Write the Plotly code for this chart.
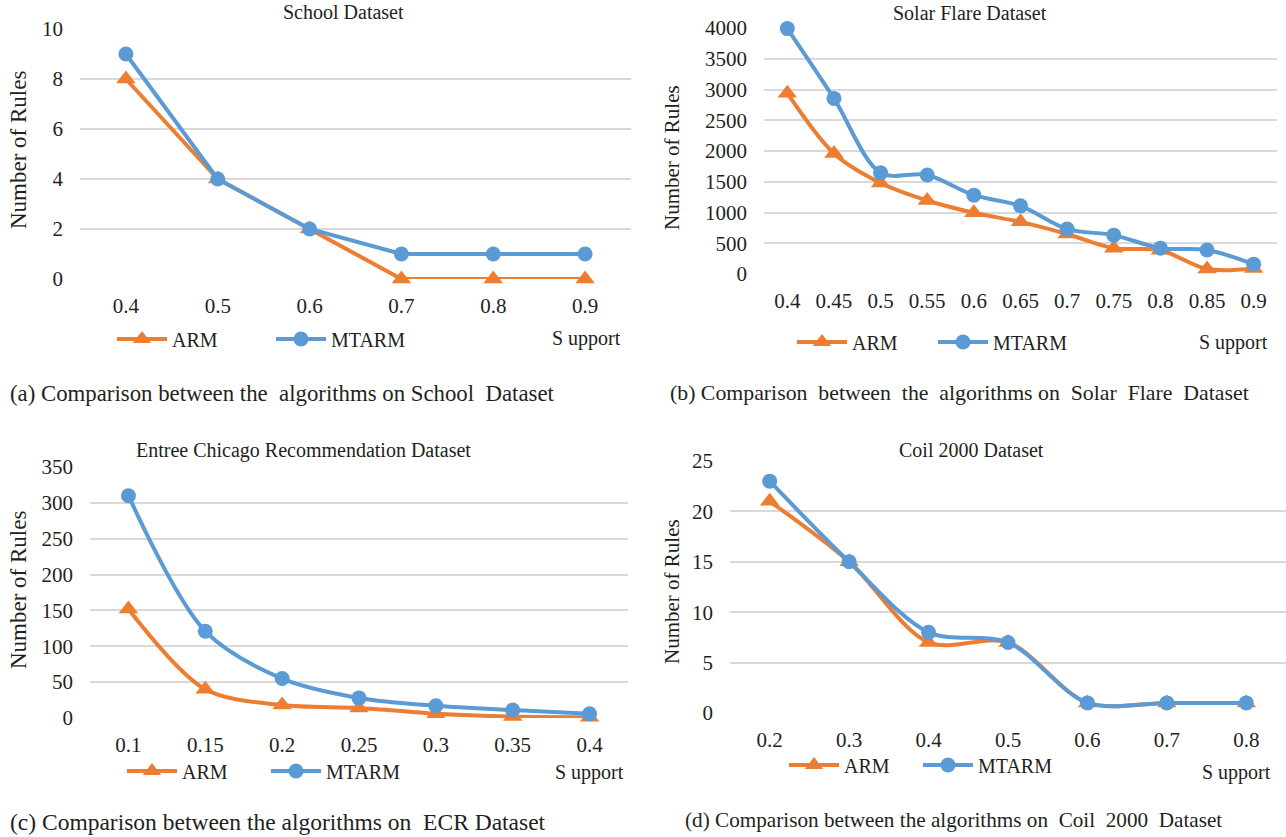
import plotly.graph_objects as go

W, H = 1286, 837

# ---------------- data ----------------
school_support = ["0.4", "0.5", "0.6", "0.7", "0.8", "0.9"]
school_arm = [8, 4, 2, 0, 0, 0]
school_mtarm = [9, 4, 2, 1, 1, 1]

solar_support = ["0.4", "0.45", "0.5", "0.55", "0.6", "0.65", "0.7", "0.75", "0.8", "0.85", "0.9"]
solar_arm = [2940, 1960, 1480, 1195, 995, 848, 650, 420, 385, 80, 90]
solar_mtarm = [3990, 2855, 1645, 1610, 1282, 1108, 730, 632, 420, 390, 160]

ecr_support = ["0.1", "0.15", "0.2", "0.25", "0.3", "0.35", "0.4"]
ecr_arm = [152, 40, 18, 14, 6, 2, 1]
ecr_mtarm = [310, 121, 55, 28, 17, 11, 6]

coil_support = ["0.2", "0.3", "0.4", "0.5", "0.6", "0.7", "0.8"]
coil_arm = [21, 15, 7, 7, 1, 1, 1]
coil_mtarm = [23, 15, 8, 7, 1, 1, 1]

titles = ["School Dataset", "Solar Flare Dataset",
          "Entree Chicago Recommendation Dataset", "Coil 2000 Dataset"]
captions = ["(a) Comparison between the  algorithms on School  Dataset",
            "(b) Comparison  between  the  algorithms on  Solar  Flare  Dataset",
            "(c) Comparison between the algorithms on  ECR Dataset",
            "(d) Comparison between the algorithms on  Coil  2000  Dataset"]
y_title = "Number of Rules"
x_title = "S upport"
series_names = ["ARM", "MTARM"]

ORANGE = "#ED7D31"
BLUE = "#5B9BD5"
GRID = "#D9D9D9"
TXT = "#231F20"
FONT = "Liberation Serif"

def X(px):
    return px / W

def Y(py):
    return 1 - py / H

# panel geometry (pixels): plot left, right, top, bottom
panels = [
    dict(cats=school_support, arm=school_arm, mt=school_mtarm, rng=[0, 10], dt=2,
         box=(80, 631, 29, 279), shape="linear",
         title=(343, 12), ytitle=(18, 150), ysize=23, support=(586, 339),
         caption=(8, 393), csize=22.8, legend=(112, 339), entry=94),
    dict(cats=solar_support, arm=solar_arm, mt=solar_mtarm, rng=[0, 4000], dt=500,
         box=(764, 1277, 28, 274), shape="spline",
         title=(970, 13), ytitle=(672, 158), ysize=21, support=(1233, 342),
         caption=(668, 393), csize=21.8, legend=(792, 342), entry=76),
    dict(cats=ecr_support, arm=ecr_arm, mt=ecr_mtarm, rng=[0, 350], dt=50,
         box=(90, 628, 467, 718), shape="spline",
         title=(303, 450), ytitle=(18, 590), ysize=23, support=(589, 772),
         caption=(8, 822), csize=23.5, legend=(122, 771), entry=79),
    dict(cats=coil_support, arm=coil_arm, mt=coil_mtarm, rng=[0, 25], dt=5,
         box=(730, 1286, 461, 713), shape="spline",
         title=(971, 450), ytitle=(672, 592), ysize=21, support=(1236, 772),
         caption=(683, 820), csize=21.2, legend=(784, 765), entry=69),
]

fig = go.Figure()
layout = dict(
    width=W, height=H,
    margin=dict(l=0, r=0, t=0, b=0, autoexpand=False),
    paper_bgcolor="white", plot_bgcolor="white",
    font=dict(family=FONT, color=TXT, size=20),
    annotations=[],
)

for i, p in enumerate(panels):
    k = "" if i == 0 else str(i + 1)
    xa, ya = "x" + k, "y" + k
    leg = "legend" + k
    l, r, t, b = p["box"]
    n = len(p["cats"])
    for name, vals, color, sym, size in [
        (series_names[0], p["arm"], ORANGE, "triangle-up", 17),
        (series_names[1], p["mt"], BLUE, "circle", 15),
    ]:
        fig.add_trace(go.Scatter(
            x=p["cats"], y=vals, name=name, mode="lines+markers",
            line=dict(color=color, width=4, shape=p["shape"], smoothing=0.9),
            marker=dict(symbol=sym, size=size, color=color),
            xaxis=xa, yaxis=ya, legend=leg, cliponaxis=False,
        ))
    layout["xaxis" + k] = dict(
        domain=[X(l), X(r)], anchor=ya, type="category", automargin=False,
        range=[-0.5, n - 0.5], showgrid=False, zeroline=False, showline=False,
        ticks="", tickfont=dict(size=21, family=FONT, color=TXT),
        ticklabelstandoff=12, fixedrange=True,
    )
    layout["yaxis" + k] = dict(
        domain=[Y(b), Y(t)], anchor=xa, range=p["rng"], dtick=p["dt"], automargin=False,
        showgrid=True, gridcolor=GRID, gridwidth=2, zeroline=False,
        showline=False, ticks="", tickfont=dict(size=21, family=FONT, color=TXT),
        ticklabelstandoff=16, fixedrange=True,
    )
    lx, ly = p["legend"]
    layout[leg] = dict(
        x=X(lx), y=Y(ly), xanchor="left", yanchor="middle",
        orientation="h", bgcolor="rgba(0,0,0,0)",
        font=dict(size=20, family=FONT, color=TXT),
        entrywidth=p["entry"], entrywidthmode="pixels", itemwidth=50,
        tracegroupgap=0,
    )
    tx, ty = p["title"]
    layout["annotations"].append(dict(
        text=titles[i], x=X(tx), y=Y(ty), xref="paper", yref="paper",
        xanchor="center", yanchor="middle", showarrow=False,
        font=dict(size=20, family=FONT, color=TXT)))
    yx, yy = p["ytitle"]
    layout["annotations"].append(dict(
        text=y_title, x=X(yx), y=Y(yy), xref="paper", yref="paper",
        xanchor="center", yanchor="middle", showarrow=False, textangle=-90,
        font=dict(size=p["ysize"], family=FONT, color=TXT)))
    sx, sy = p["support"]
    layout["annotations"].append(dict(
        text=x_title, x=X(sx), y=Y(sy), xref="paper", yref="paper",
        xanchor="center", yanchor="middle", showarrow=False,
        font=dict(size=20, family=FONT, color=TXT)))
    cx, cy = p["caption"]
    layout["annotations"].append(dict(
        text=captions[i], x=X(cx), y=Y(cy), xref="paper", yref="paper",
        xanchor="left", yanchor="middle", showarrow=False,
        font=dict(size=p["csize"], family=FONT, color=TXT)))

fig.update_layout(**layout)
fig.write_html("out.html")
